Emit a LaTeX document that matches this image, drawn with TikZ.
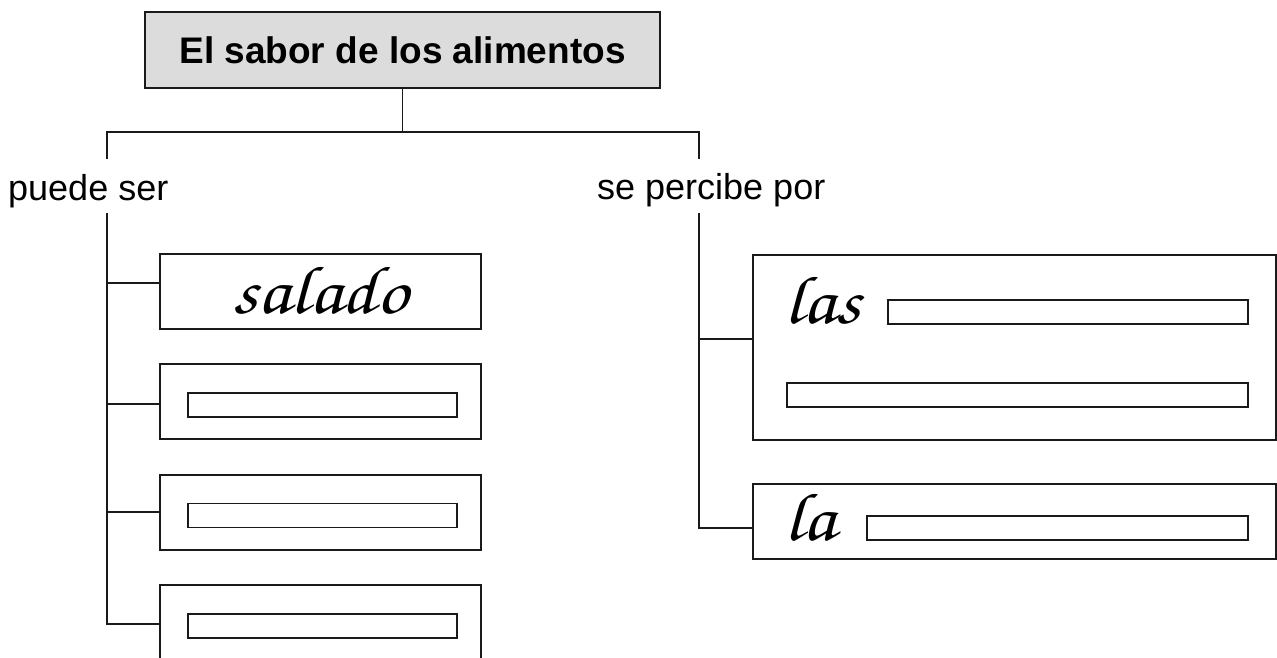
\documentclass[tikz,border=0pt]{standalone}
\usepackage[T1]{fontenc}
\usepackage{fontspec}
\setmainfont{Liberation Sans}
\newcommand{\cursivefont}{\fontencoding{T1}\fontfamily{pzc}\fontseries{mb}\fontshape{it}\fontsize{68}{72}\selectfont}
\newcommand{\cursivetext}[1]{\scalebox{1.15}[1]{\cursivefont #1}}
\definecolor{titlefill}{HTML}{DCDCDC}
\definecolor{ink}{HTML}{1A1A1A}
\tikzset{
  box/.style={draw=ink, line width=1.3pt, inner sep=0pt, outer sep=0pt},
  conn/.style={draw=ink, line width=1.3pt},
  label/.style={inner sep=0pt, anchor=base west, font=\fontsize{36}{40}\selectfont},
  script/.style={inner sep=0pt}
}
\begin{document}
\begin{tikzpicture}[x=1pt,y=-1pt]
\clip (0,0) rectangle (1277,657);
\fill[white] (0,0) rectangle (1277,657);
% title
\node[box, fill=titlefill, minimum width=515pt, minimum height=76pt,
      font=\bfseries\fontsize{37}{40}\selectfont] (title) at (402.5,50) {El sabor de los alimentos};
% labels
\node[label] (puede) at (8,200) {puede ser};
\node[label] (percibe) at (597,199) {se percibe por};
% left boxes
\node[box, minimum width=321pt, minimum height=75pt] (b1) at (320.5,291.5) {};
\node[box, minimum width=321pt, minimum height=75pt] (b2) at (320.5,401.5) {};
\node[box, minimum width=321pt, minimum height=75pt] (b3) at (320.5,512.5) {};
\node[box, minimum width=321pt, minimum height=75pt] (b4) at (320.5,622.5) {};
\node[box, minimum width=269pt, minimum height=24pt] (i2) at (322.5,405) {};
\node[box, minimum width=269pt, minimum height=24pt] (i3) at (322.5,515.5) {};
\node[box, minimum width=269pt, minimum height=24pt] (i4) at (322.5,626) {};
\node[script, anchor=base] (salado) at (320,313) {\cursivetext{salado}};
% right boxes
\node[box, minimum width=523pt, minimum height=185pt] (r1) at (1014.5,347.5) {};
\node[box, minimum width=523pt, minimum height=75pt] (r2) at (1014.5,521.5) {};
\node[box, minimum width=360pt, minimum height=24pt] (ra) at (1068,312) {};
\node[box, minimum width=461pt, minimum height=24pt] (rb) at (1017.5,395) {};
\node[box, minimum width=381pt, minimum height=24pt] (rc) at (1057.5,528) {};
\node[script, anchor=base west] (las) at (784,323) {\cursivetext{las}};
\node[script, anchor=base west] (la) at (784,540) {\cursivetext{la}};
% connector coordinates
\coordinate (hl) at (107,132);
\coordinate (hr) at (699,132);
\coordinate (lgap1) at (107,159);
\coordinate (lgap2) at (107,213);
\coordinate (rgap1) at (699,159);
\coordinate (rgap2) at (699,213);
\coordinate (c1) at (107,283);
\coordinate (c2) at (107,404);
\coordinate (c3) at (107,512);
\coordinate (c4) at (107,624);
\coordinate (d1) at (699,339);
\coordinate (d2) at (699,528);
% connectors
\draw[conn] (title.south) -- (title.south |- hl);
\draw[conn] (lgap1) -- (hl) -- (hr) -- (rgap1);
\draw[conn] (lgap2) -- (c4) -- (c4 -| b4.west);
\draw[conn] (c1) -- (c1 -| b1.west);
\draw[conn] (c2) -- (c2 -| b2.west);
\draw[conn] (c3) -- (c3 -| b3.west);
\draw[conn] (rgap2) -- (d2) -- (d2 -| r2.west);
\draw[conn] (d1) -- (d1 -| r1.west);
\end{tikzpicture}
\end{document}
